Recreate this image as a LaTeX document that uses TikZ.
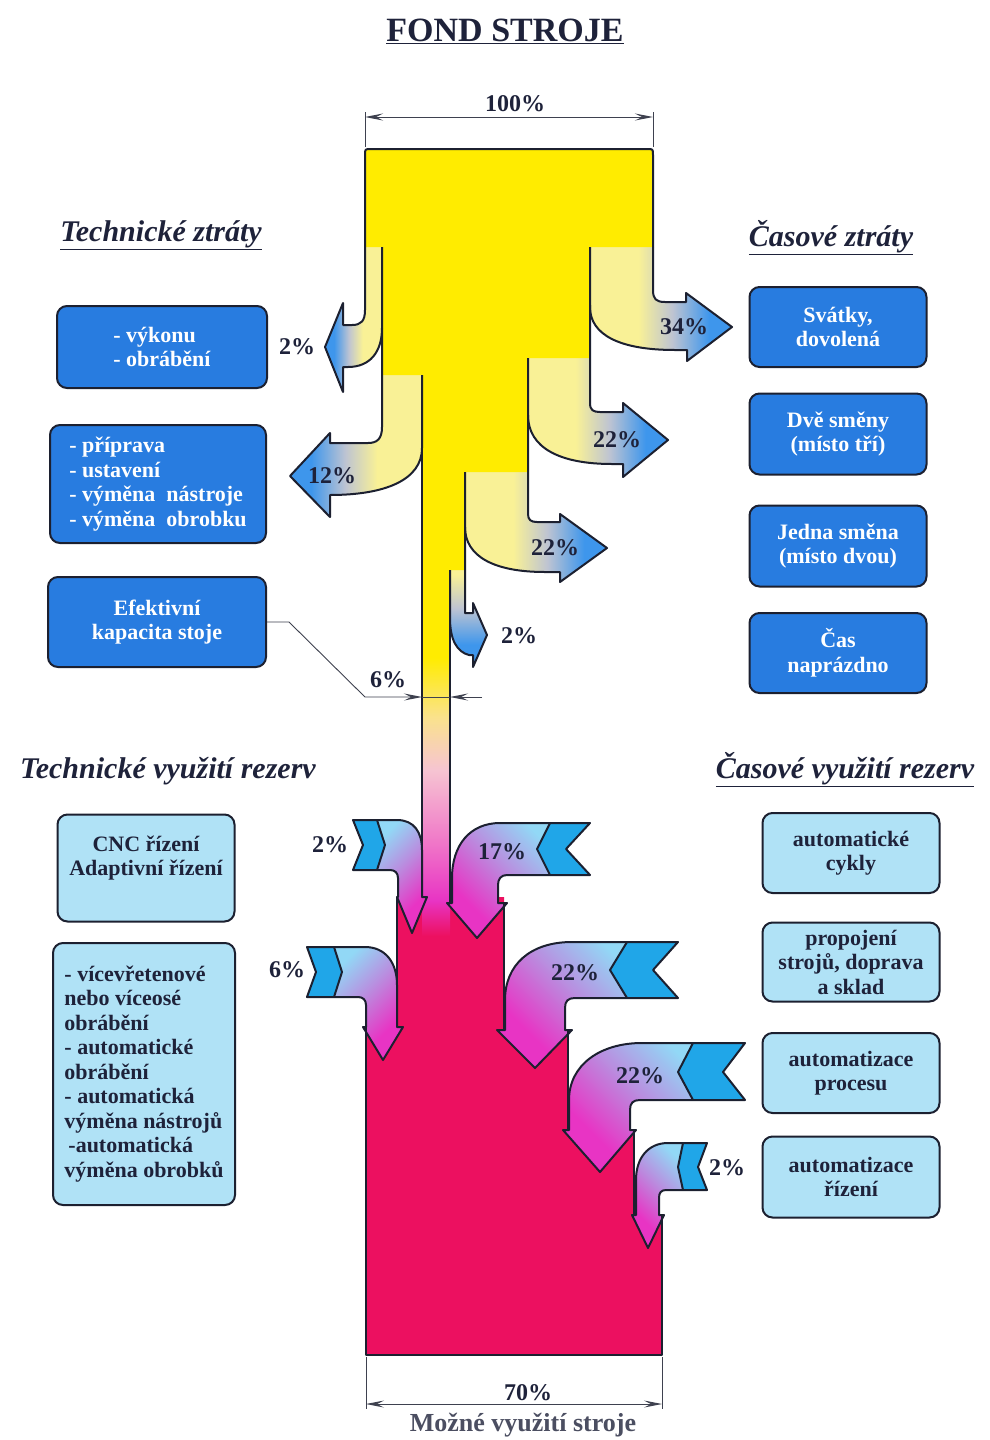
\documentclass[tikz,border=0pt]{standalone}
\usepackage{fontspec}
\setmainfont{Liberation Serif}
\usetikzlibrary{arrows.meta}

\definecolor{yel}{RGB}{255,236,0}
\definecolor{pyel}{RGB}{249,241,150}
\definecolor{agrey}{RGB}{190,196,210}
\definecolor{ablue}{RGB}{62,150,236}
\definecolor{lossblue}{RGB}{40,124,224}
\definecolor{resblue}{RGB}{176,226,246}
\definecolor{tailblue}{RGB}{32,166,232}
\definecolor{lblue}{RGB}{146,216,246}
\definecolor{mag}{RGB}{232,52,196}
\definecolor{pinkblk}{RGB}{236,16,96}
\definecolor{outl}{RGB}{28,32,48}
\definecolor{txtdark}{RGB}{30,34,58}
\definecolor{peach}{RGB}{250,226,140}
\definecolor{lpink}{RGB}{246,196,210}
\definecolor{mpink}{RGB}{240,120,200}

\pgfdeclareverticalshading{outflow}{100bp}{color(0bp)=(ablue); color(33bp)=(ablue); color(46bp)=(agrey); color(58bp)=(pyel); color(100bp)=(pyel)}
\pgfdeclareverticalshading{inflow}{100bp}{color(0bp)=(mag); color(30bp)=(mag); color(50bp)=(mag!45!lblue); color(68bp)=(lblue); color(100bp)=(lblue)}
\pgfdeclareverticalshading{channel}{100bp}{color(0bp)=(pinkblk); color(25bp)=(pinkblk); color(31bp)=(mag); color(41bp)=(mpink); color(53bp)=(lpink); color(62bp)=(peach); color(72bp)=(yel); color(100bp)=(yel)}

\tikzset{
  edge/.style={draw=outl, line width=2pt, line join=round},
  dim/.style={draw=outl!85, line width=0.9pt},
  lossbox/.style={draw=outl, line width=2pt, rounded corners=10pt, fill=lossblue, text=white, align=center, font=\fontsize{22}{24.5}\selectfont\bfseries},
  resbox/.style={lossbox, fill=resblue, text=txtdark},
  heading/.style={font=\fontsize{30}{34}\selectfont\bfseries\itshape, text=txtdark, anchor=base},
  pct/.style={font=\fontsize{24}{28}\selectfont\bfseries, text=txtdark},
  tail/.style={fill=tailblue},
}

% outflow arrows (open outline, top edge left out)
\newcommand{\lossA}{(365,247) -- (365,310) .. controls (365,321) and (361,325) .. (352,325) -- (343,325) -- (343,303) -- (325,347) -- (343,392) -- (343,367) -- (348,367) .. controls (370,367) and (382,352) .. (382,328) -- (382,247)}
\newcommand{\lossB}{(382,328) -- (382,427) .. controls (382,439) and (377,443) .. (368,443) -- (330,443) -- (330,433) -- (290,476) -- (330,517) -- (330,495) .. controls (385,495) and (422,480) .. (422,448) -- (422,375)}
\newcommand{\lossC}{(653,247) -- (653,290) .. controls (653,299) and (656,302) .. (665,302) -- (686,302) -- (686,293) -- (732,327) -- (687,361) -- (687,350) -- (675,350) .. controls (620,350) and (590,335) .. (590,307) -- (590,247)}
\newcommand{\lossD}{(590,305) -- (590,403) .. controls (590,410) and (593,412) .. (600,412) -- (623,412) -- (623,403) -- (668,440) -- (623,477) -- (623,464) -- (612,464) .. controls (560,464) and (528,448) .. (528,415) -- (528,358)}
\newcommand{\lossE}{(528,415) -- (528,514) .. controls (528,520) and (531,522) .. (537,522) -- (560,522) -- (560,514) -- (607,548) -- (560,582) -- (560,572) -- (545,572) .. controls (495,572) and (465,557) .. (465,527) -- (465,472)}
\newcommand{\lossF}{(465,527) -- (465,613) -- (473,613) -- (473,603) -- (487,635) -- (473,667) -- (473,655) -- (469,655) .. controls (457,652) and (450,640) .. (450,618) -- (450,570)}

% inflow arrows
\newcommand{\gainA}{(353,820) -- (397,820) .. controls (414,820) and (422,832) .. (422,850) -- (422,897) -- (427,897) -- (412,933) -- (397,897) -- (398,897) -- (398,878) .. controls (398,873) and (395,870) .. (390,870) -- (353,870) -- (363,845) -- cycle}
\newcommand{\gainB}{(590,823) -- (500,823) .. controls (470,823) and (452,845) .. (452,878) -- (452,903) -- (447,903) -- (477,938) -- (507,903) -- (498,903) -- (498,885) .. controls (498,879) and (501,875) .. (507,875) -- (590,875) -- (566,849) -- cycle}
\newcommand{\gainC}{(307,947) -- (365,947) .. controls (385,947) and (397,962) .. (397,985) -- (397,1027) -- (403,1027) -- (383,1060) -- (363,1027) -- (366,1027) -- (366,1005) .. controls (366,1000) and (363,997) .. (358,997) -- (307,997) -- (316,972) -- cycle}
\newcommand{\gainD}{(678,942) -- (572,942) .. controls (530,942) and (505,965) .. (505,1000) -- (505,1030) -- (497,1030) -- (535,1068) -- (572,1030) -- (565,1030) -- (565,1008) .. controls (565,1001) and (568,998) .. (575,998) -- (678,998) -- (653,970) -- cycle}
\newcommand{\gainE}{(745,1043) -- (642,1043) .. controls (600,1043) and (569,1065) .. (569,1100) -- (569,1130) -- (563,1130) -- (600,1172) -- (636,1130) -- (630,1130) -- (630,1110) .. controls (630,1103) and (633,1100) .. (640,1100) -- (745,1100) -- (723,1072) -- cycle}
\newcommand{\gainF}{(707,1143) -- (668,1143) .. controls (648,1143) and (636,1158) .. (636,1180) -- (636,1215) -- (632,1215) -- (648,1248) -- (664,1215) -- (659,1215) -- (659,1198) .. controls (659,1193) and (661,1190) .. (666,1190) -- (707,1190) -- (698,1167) -- cycle}

\begin{document}
\begin{tikzpicture}[x=1pt, y=-1pt, >={Stealth[length=18pt, width=7pt, inset=7pt]}]
  \useasboundingbox (0,0) rectangle (990,1440);
  \fill[white] (0,0) rectangle (990,1440);

  % losses
  \fill[shading=outflow, shading angle=-90] \lossA -- cycle;
  \fill[shading=outflow, shading angle=-90] \lossB -- cycle;
  \fill[shading=outflow, shading angle=90] \lossC -- cycle;
  \fill[shading=outflow, shading angle=90] \lossD -- cycle;
  \fill[shading=outflow, shading angle=90] \lossE -- cycle;
  \fill[shading=outflow, shading angle=0] \lossF -- cycle;
  \fill[yel] (365,247) -- (365,155) .. controls (365,149) .. (371,149) -- (647,149) .. controls (653,149) .. (653,155) -- (653,247) -- (590,247) -- (590,358) -- (528,358) -- (528,472) -- (465,472) -- (465,570) -- (450,570) -- (450,642) -- (422,642) -- (422,375) -- (382,375) -- (382,247) -- cycle;

  % reserves
  \fill[pinkblk] (366,1355) -- (366,1027) -- (397,1027) -- (397,897) -- (504,897) -- (504,1030) -- (568,1030) -- (568,1130) -- (634,1130) -- (634,1215) -- (662,1215) -- (662,1355) -- cycle;
  \fill[shading=channel] (422,640) rectangle (450,936);
  \foreach \g/\a in {\gainA/45, \gainB/-45, \gainC/45, \gainD/-45, \gainE/-45, \gainF/-45}
    \fill[shading=inflow, shading angle=\a] \g;
  \fill[tail] (353,820) -- (377,820) -- (385,845) -- (377,870) -- (353,870) -- (363,845) -- cycle;
  \fill[tail] (550,823) -- (590,823) -- (566,849) -- (590,875) -- (550,875) -- (537,849) -- cycle;
  \fill[tail] (307,947) -- (334,947) -- (342,972) -- (334,997) -- (307,997) -- (316,972) -- cycle;
  \fill[tail] (627,942) -- (678,942) -- (653,970) -- (678,998) -- (627,998) -- (610,970) -- cycle;
  \fill[tail] (693,1043) -- (745,1043) -- (723,1072) -- (745,1100) -- (693,1100) -- (678,1072) -- cycle;
  \fill[tail] (683,1143) -- (707,1143) -- (698,1167) -- (707,1190) -- (683,1190) -- (678,1167) -- cycle;

  % outlines
  \draw[edge] (365,247) -- (365,155) .. controls (365,149) .. (371,149) -- (647,149) .. controls (653,149) .. (653,155) -- (653,247);
  \foreach \p in {\lossA, \lossB, \lossC, \lossD, \lossE, \lossF}
    \draw[edge] \p;
  \draw[edge] (422,448) -- (422,897);
  \draw[edge] (450,618) -- (450,903);
  \draw[edge] (397,897) -- (397,1027);
  \draw[edge] (366,1027) -- (366,1355) -- (662,1355) -- (662,1215);
  \draw[edge] (634,1130) -- (634,1215);
  \draw[edge] (568,1030) -- (568,1130);
  \draw[edge] (504,903) -- (504,1030);
  \foreach \g in {\gainA, \gainB, \gainC, \gainD, \gainE, \gainF}
    \draw[edge] \g;
  \draw[edge] (377,820) -- (385,845) -- (377,870);
  \draw[edge] (550,823) -- (537,849) -- (550,875);
  \draw[edge] (334,947) -- (342,972) -- (334,997);
  \draw[edge] (627,942) -- (610,970) -- (627,998);
  \draw[edge] (693,1043) -- (678,1072) -- (693,1100);
  \draw[edge] (683,1143) -- (678,1167) -- (683,1190);

  % dimensions
  \draw[dim] (365,112) -- (365,147) (653,112) -- (653,147);
  \draw[dim, <->] (365,117) -- (653,117);
  \draw[dim] (366,1357) -- (366,1409) (662,1357) -- (662,1409);
  \draw[dim, <->] (366,1404) -- (662,1404);

  % titles
  \node[font=\fontsize{34}{38}\selectfont\bfseries, text=txtdark, anchor=base] (title) at (505,41) {\underline{FOND STROJE}};
  \node[heading] (techloss) at (161,241) {\underline{Technické ztráty}};
  \node[heading] (timeloss) at (831,246) {\underline{Časové ztráty}};
  \node[heading] (techres) at (168,778) {Technické využití rezerv};
  \node[heading] (timeres) at (845,778) {\underline{Časové využití rezerv}};

  % boxes
  \node[lossbox, align=left, minimum width=210pt, minimum height=82pt] (vykon) at (162,347) {- výkonu\\- obrábění};
  \node[lossbox, align=left, minimum width=216pt, minimum height=118pt] (prip) at (158,484) {- příprava\\- ustavení\\- výměna\enspace nástroje\\- výměna\enspace obrobku};
  \node[lossbox, minimum width=218pt, minimum height=90pt] (eff) at (157,622) {Efektivní\\kapacita stoje};
  \node[lossbox, minimum width=177pt, minimum height=80pt] (svatky) at (838,327) {Svátky,\\dovolená};
  \node[lossbox, minimum width=177pt, minimum height=81pt] (dve) at (838,434) {Dvě směny\\(místo tří)};
  \node[lossbox, minimum width=177pt, minimum height=81pt] (jedna) at (838,546) {Jedna směna\\(místo dvou)};
  \node[lossbox, minimum width=177pt, minimum height=80pt] (cas) at (838,653) {Čas\\naprázdno};
  \node[resbox, minimum width=177pt, minimum height=107pt] (cnc) at (146,868) {CNC řízení\\Adaptivní řízení\\\mbox{}};
  \node[resbox, align=left, minimum width=182pt, minimum height=262pt] (multi) at (144,1074) {- vícevřetenové\\nebo víceosé\\obrábění\\- automatické\\obrábění\\- automatická\\výměna nástrojů\\\hspace{4pt}-automatická\\výměna obrobků};
  \node[resbox, minimum width=177pt, minimum height=80pt] (cykly) at (851,853) {automatické\\cykly};
  \node[resbox, minimum width=177pt, minimum height=79pt] (propoj) at (851,962) {propojení\\strojů, doprava\\a sklad};
  \node[resbox, minimum width=177pt, minimum height=80pt] (proces) at (851,1073) {automatizace\\procesu};
  \node[resbox, minimum width=177pt, minimum height=81pt] (rizeni) at (851,1177) {automatizace\\řízení};

  % effective capacity 6 %
  \coordinate (kink) at (365,697);
  \coordinate (chL) at (422,697);
  \coordinate (chR) at (450,697);
  \coordinate (chRout) at (482,697);
  \draw[dim, ->] (eff.east) -- ++(22,0) -- (kink) -- (chL);
  \draw[dim] (chL) -- (chR);
  \draw[dim, ->] (chRout) -- (chR);

  % percentages
  \node[pct] (p100) at (515,104) {100\%};
  \node[pct] (pA) at (297,347) {2\%};
  \node[pct] (pB) at (332,476) {12\%};
  \node[pct] (pC) at (684,327) {34\%};
  \node[pct] (pD) at (617,440) {22\%};
  \node[pct] (pE) at (555,548) {22\%};
  \node[pct] (pF) at (519,636) {2\%};
  \node[pct] (p6) at (388,680) {6\%};
  \node[pct] (qA) at (330,845) {2\%};
  \node[pct] (qB) at (502,852) {17\%};
  \node[pct] (qC) at (287,970) {6\%};
  \node[pct] (qD) at (575,973) {22\%};
  \node[pct] (qE) at (640,1076) {22\%};
  \node[pct] (qF) at (727,1168) {2\%};
  \node[pct] (p70) at (528,1393) {70\%};
  \node[font=\fontsize{26}{30}\selectfont\bfseries, text=txtdark!80, anchor=base] (mozne) at (523,1431) {Možné využití stroje};
\end{tikzpicture}
\end{document}
